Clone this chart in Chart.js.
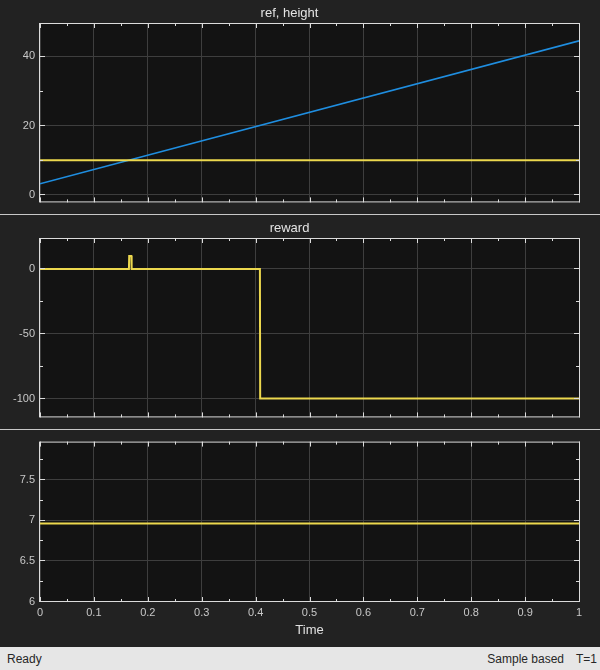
<!DOCTYPE html>
<html>
<head>
<meta charset="utf-8">
<script src="https://cdn.jsdelivr.net/npm/chart.js@4"></script>
<style>
  body {
    margin: 0;
    width: 600px;
    height: 670px;
    overflow: hidden;
    position: relative;
    background: #222222;
    font-family: 'Liberation Sans', Arial, sans-serif;
  }
  canvas { position: absolute; left: 0; }
  .sep { position: absolute; left: 0; width: 600px; height: 1px; background: #c8c8c8; }
  #status {
    position: absolute;
    left: 0;
    top: 647px;
    width: 600px;
    height: 23px;
    background: #e6e6e6;
    color: #262626;
    font-size: 12px;
    line-height: 24px;
  }
  #status span { position: absolute; top: 0; }
</style>
</head>
<body>
<canvas id="refChart" width="600" height="214" style="top:0"></canvas>
<div class="sep" style="top:214px"></div>
<canvas id="rewardChart" width="600" height="214" style="top:215px"></canvas>
<div class="sep" style="top:429px"></div>
<canvas id="lastChart" width="600" height="217" style="top:430px"></canvas>
<div id="status">
  <span style="left:7px">Ready</span>
  <span style="right:36px">Sample based</span>
  <span style="right:3px">T=1</span>
</div>
<script>
const timeTicks = [0, 0.1, 0.2, 0.3, 0.4, 0.5, 0.6, 0.7, 0.8, 0.9, 1]
const timeLabels = ['0', '0.1', '0.2', '0.3', '0.4', '0.5', '0.6', '0.7', '0.8', '0.9', '1']

// ref, height
const refTime = [0, 1]
const refValues = [10, 10]
const heightTime = [0, 1]
const heightValues = [3.2, 44.5]
const refTicks = [0, 20, 40]
const refTickLabels = ['0', '20', '40']
const refRange = [-2.16, 49.64]

// reward
const rewardTime = [0, 0.165, 0.1655, 0.1695, 0.17, 0.408, 0.4085, 1]
const rewardValues = [0, 0, 10, 10, 0, 0, -100, -100]
const rewardTicks = [-100, -50, 0]
const rewardTickLabels = ['-100', '-50', '0']
const rewardRange = [-114.6, 23.85]

// third scope
const lastTime = [0, 1]
const lastValues = [6.96, 6.96]
const lastTicks = [6, 6.5, 7, 7.5]
const lastTickLabels = ['6', '6.5', '7', '7.5']
const lastRange = [5.994, 7.97]

const YELLOW = '#ecd84e'
const BLUE = '#1f8ee0'
const GRID = '#3e3e3e'
const FRAME = '#dcdcdc'

Chart.defaults.font.family = "'Liberation Sans', Arial, sans-serif"

function xy(xs, ys) {
  return xs.map((x, i) => ({ x, y: ys[i] }))
}

function halfSteps(ticks, min, max) {
  const step = ticks[1] - ticks[0]
  const out = []
  for (let v = ticks[0] - step / 2; v <= max; v += step) {
    if (v >= min) out.push(v)
  }
  return out
}

const scopeFrame = {
  id: 'scopeFrame',
  beforeDraw(chart) {
    const { ctx, chartArea: a } = chart
    ctx.save()
    ctx.fillStyle = '#131313'
    ctx.fillRect(a.left, a.top, a.right - a.left, a.bottom - a.top)
    ctx.restore()
  },
  afterDraw(chart, args, opts) {
    const { ctx, chartArea: a, scales } = chart
    ctx.save()
    ctx.strokeStyle = FRAME
    ctx.lineWidth = 1
    ctx.beginPath()
    const xMarks = (values, len) => {
      values.forEach((v) => {
        const px = Math.round(scales.x.getPixelForValue(v)) + 0.5
        ctx.moveTo(px, a.top)
        ctx.lineTo(px, a.top + len)
        ctx.moveTo(px, a.bottom)
        ctx.lineTo(px, a.bottom - len)
      })
    }
    const yMarks = (values, len) => {
      values.forEach((v) => {
        const py = Math.floor(scales.y.getPixelForValue(v)) + 0.5
        ctx.moveTo(a.left, py)
        ctx.lineTo(a.left + len, py)
        ctx.moveTo(a.right, py)
        ctx.lineTo(a.right - len, py)
      })
    }
    xMarks(timeTicks, 5)
    xMarks(halfSteps(timeTicks, 0, 1), 3)
    yMarks(opts.yTicks, 5)
    yMarks(halfSteps(opts.yTicks, opts.yRange[0], opts.yRange[1]), 3)
    ctx.stroke()
    ctx.strokeRect(a.left - 0.5, a.top + 0.5, a.right - a.left + 1, a.bottom - a.top - 1)
    ctx.restore()
  },
}

function makeScope(id, { title, datasets, yTicks, yLabels, yRange, showTime }) {
  const canvas = document.getElementById(id)
  return new Chart(canvas.getContext('2d'), {
    type: 'line',
    data: { datasets },
    plugins: [scopeFrame],
    options: {
      responsive: false,
      animation: false,
      layout: { padding: { top: title ? 0 : 10, right: 21, bottom: 0, left: 0 } },
      elements: {
        point: { radius: 0 },
        line: { tension: 0, fill: false },
      },
      plugins: {
        legend: { display: false },
        tooltip: { enabled: false },
        title: {
          display: !!title,
          text: title,
          color: '#e4e4e4',
          font: { size: 13, weight: 'normal' },
          padding: { top: 6, bottom: 1.4 },
        },
        scopeFrame: { yTicks, yRange },
      },
      scales: {
        x: {
          type: 'linear',
          min: 0,
          max: 1,
          bounds: 'data',
          afterBuildTicks: (s) => {
            s.ticks = timeTicks.map((v) => ({ value: v }))
          },
          afterFit: (s) => {
            s.height = showTime ? 45 : 11
          },
          grid: { color: GRID, drawTicks: false },
          border: { display: false },
          ticks: {
            display: showTime,
            color: '#c8c8c8',
            font: { size: 11 },
            padding: 4.5,
            maxRotation: 0,
            autoSkip: false,
            callback: (v) => timeLabels[timeTicks.indexOf(v)],
          },
          title: {
            display: showTime,
            text: 'Time',
            color: '#e0e0e0',
            font: { size: 13 },
            padding: { top: 0, bottom: 9 },
          },
        },
        y: {
          type: 'linear',
          min: yRange[0],
          max: yRange[1],
          bounds: 'data',
          afterBuildTicks: (s) => {
            s.ticks = yTicks.map((v) => ({ value: v }))
          },
          afterFit: (s) => {
            s.width = 40
          },
          grid: { color: GRID, drawTicks: false },
          border: { display: false },
          ticks: {
            color: '#c8c8c8',
            font: { size: 11 },
            padding: 5,
            callback: (v) => yLabels[yTicks.indexOf(v)],
          },
        },
      },
    },
  })
}

makeScope('refChart', {
  title: 'ref, height',
  datasets: [
    { label: 'ref', data: xy(refTime, refValues), borderColor: YELLOW, borderWidth: 2 },
    { label: 'height', data: xy(heightTime, heightValues), borderColor: BLUE, borderWidth: 1.6 },
  ],
  yTicks: refTicks,
  yLabels: refTickLabels,
  yRange: refRange,
  showTime: false,
})

makeScope('rewardChart', {
  title: 'reward',
  datasets: [
    { label: 'reward', data: xy(rewardTime, rewardValues), borderColor: YELLOW, borderWidth: 2 },
  ],
  yTicks: rewardTicks,
  yLabels: rewardTickLabels,
  yRange: rewardRange,
  showTime: false,
})

makeScope('lastChart', {
  title: '',
  datasets: [
    { label: '', data: xy(lastTime, lastValues), borderColor: YELLOW, borderWidth: 2 },
  ],
  yTicks: lastTicks,
  yLabels: lastTickLabels,
  yRange: lastRange,
  showTime: true,
})
</script>
</body>
</html>
